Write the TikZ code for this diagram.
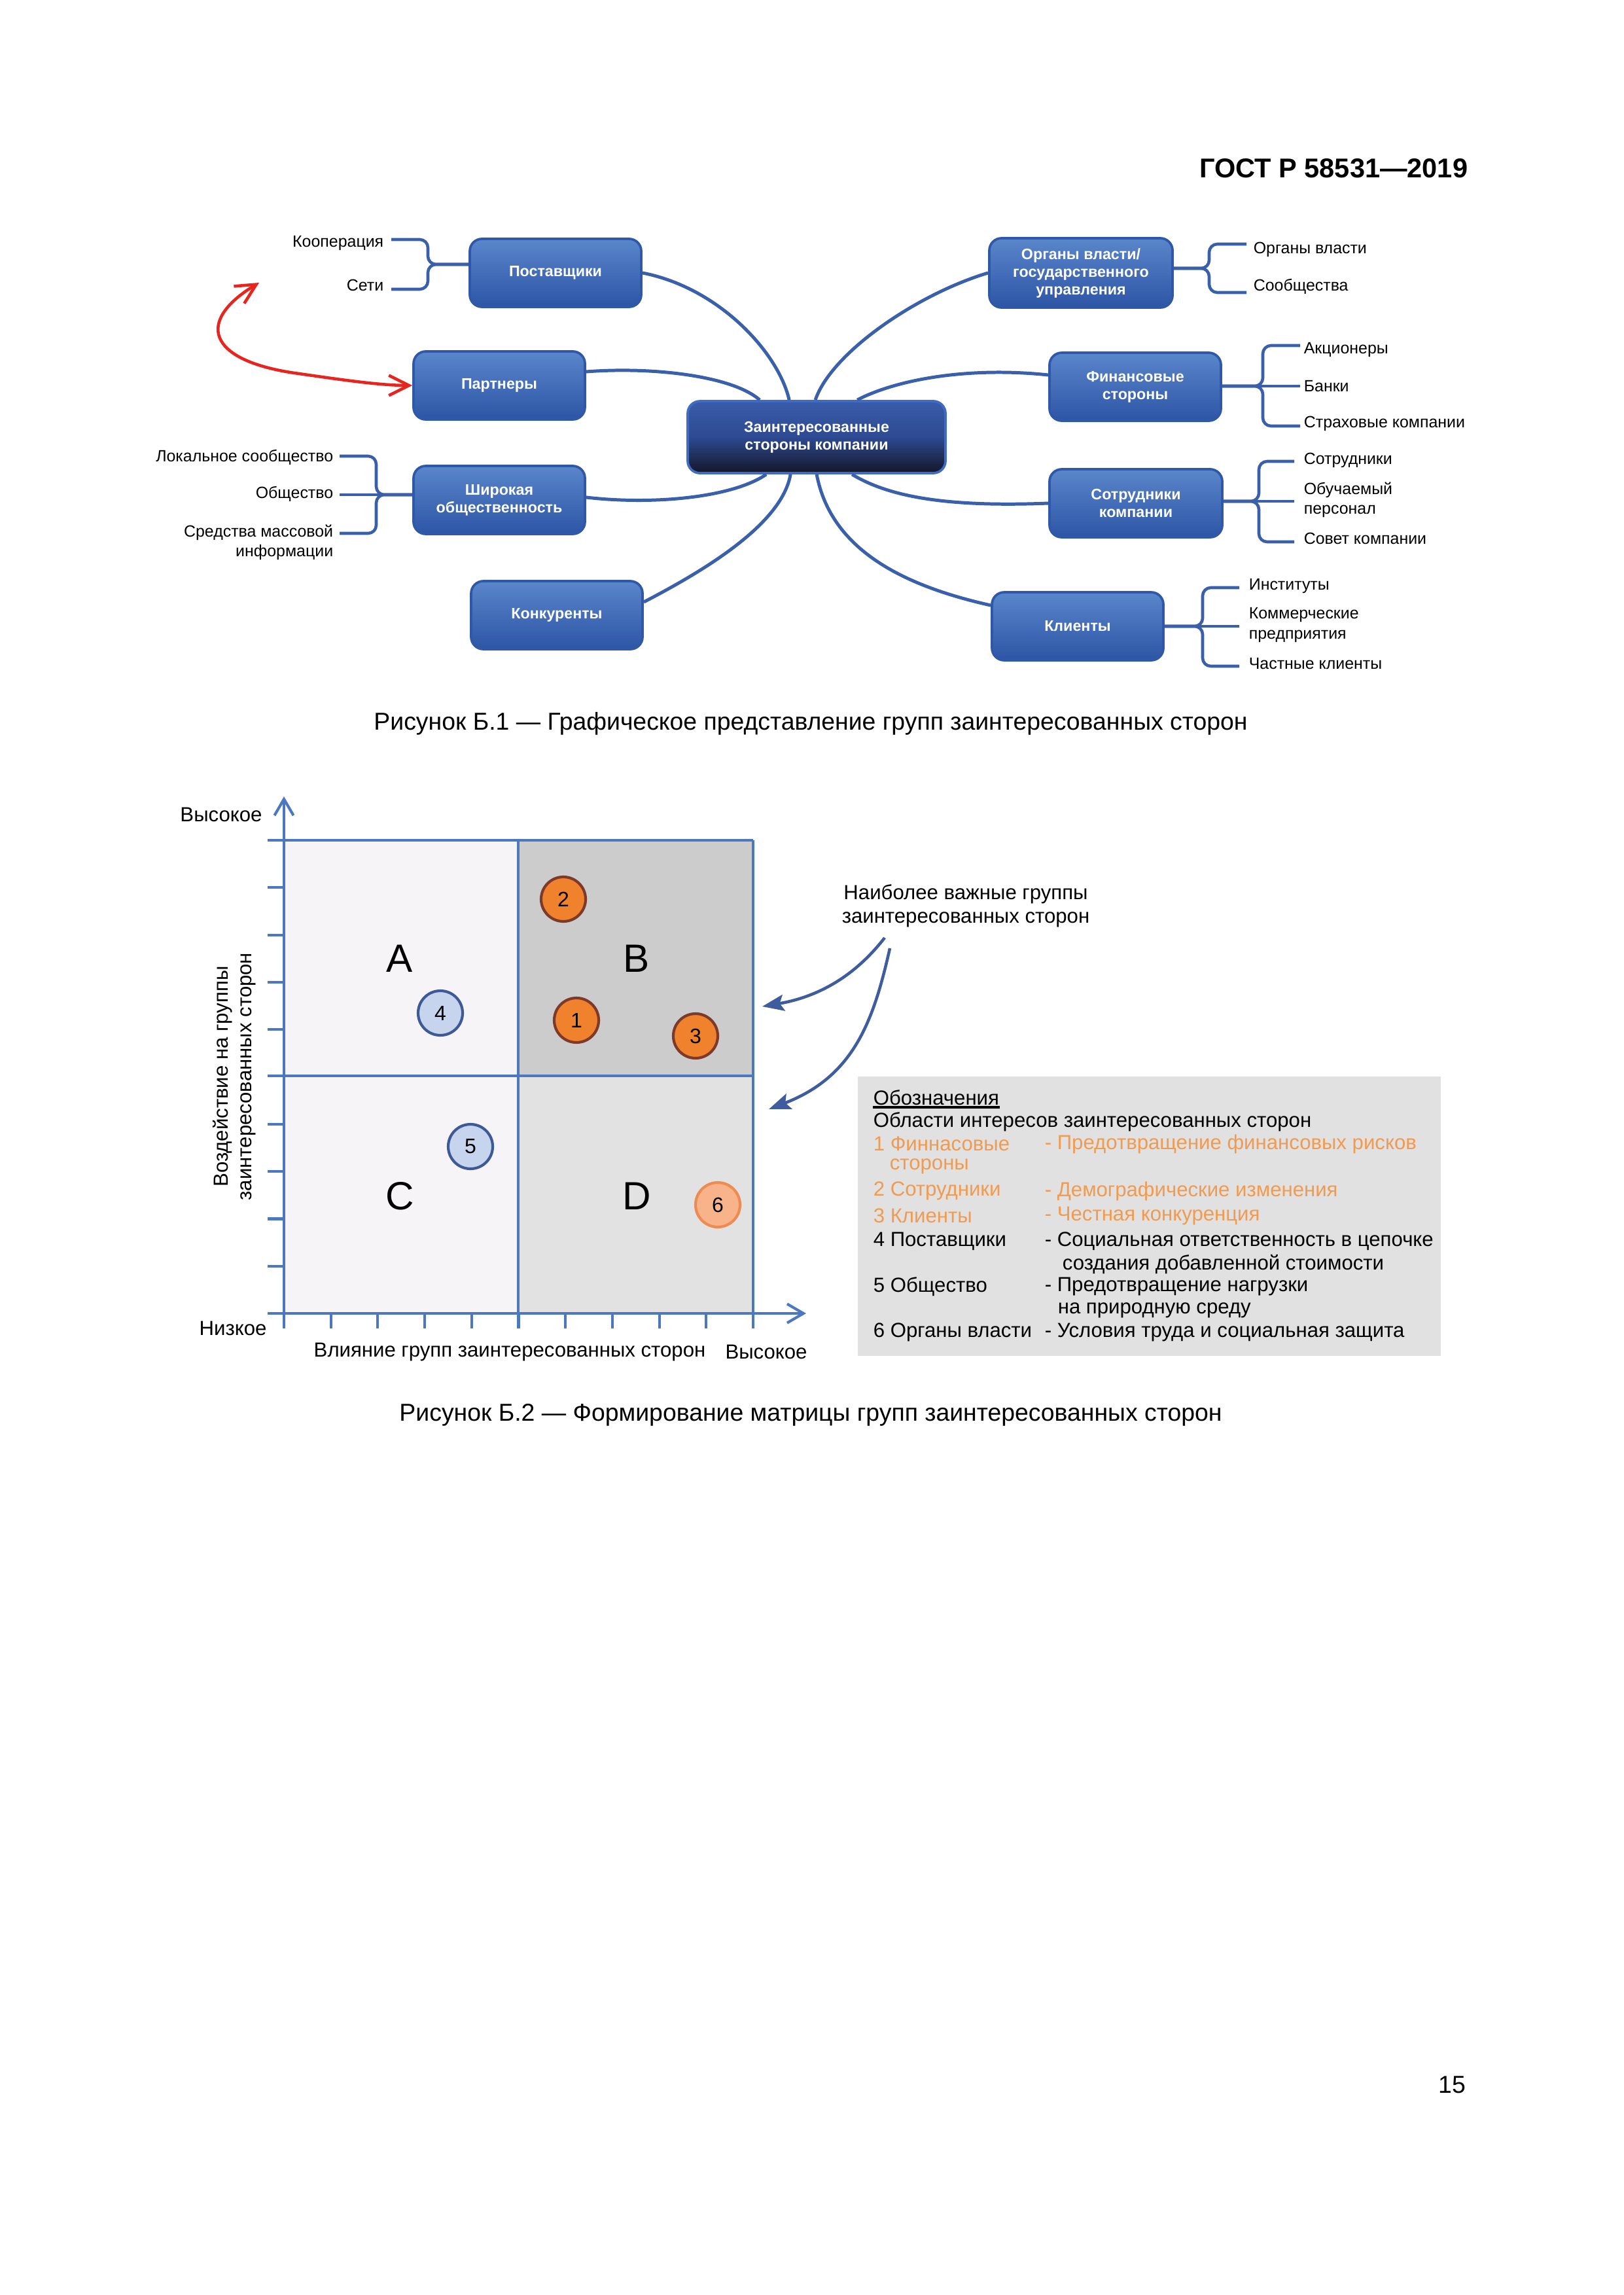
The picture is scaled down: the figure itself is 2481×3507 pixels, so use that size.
\documentclass[tikz,border=0pt]{standalone}
\usepackage{fontspec}
\setmainfont{Liberation Sans}
\usetikzlibrary{arrows.meta,calc}
\definecolor{boxtop}{HTML}{5A86CB}
\definecolor{boxbot}{HTML}{2D55A5}
\definecolor{boxedge}{HTML}{3058A8}
\definecolor{ctrtop}{HTML}{3A5CAA}
\definecolor{ctrmid}{HTML}{2E4A92}
\definecolor{ctrbot}{HTML}{141629}
\definecolor{ctredge}{HTML}{3F6BC0}
\definecolor{connblue}{HTML}{3A60AC}
\definecolor{arrred}{HTML}{E8241F}
\definecolor{gridblue}{HTML}{4C78C2}
\definecolor{quadlight}{HTML}{F6F4F6}
\definecolor{quadB}{HTML}{CCCCCC}
\definecolor{quadD}{HTML}{E2E2E2}
\definecolor{orfill}{HTML}{F0822D}
\definecolor{oredge}{HTML}{7E3A28}
\definecolor{blfill}{HTML}{C6D4EE}
\definecolor{bledge}{HTML}{3E5A96}
\definecolor{lofill}{HTML}{F9B38A}
\definecolor{loedge}{HTML}{EE8B52}
\definecolor{legor}{HTML}{F29A4E}
\definecolor{darkarr}{HTML}{3F5D9E}
\definecolor{leggray}{HTML}{E1E1E1}
\newcommand{\myfs}[2]{\fontsize{#1}{#2}\selectfont}
\def\pxu{0.084643mm}
\begin{document}
\begin{tikzpicture}[x=0.084643mm,y=-0.084643mm,
  box/.style={draw=boxedge, line width=0.9pt, rounded corners=4.5pt,
    top color=boxtop, bottom color=boxbot, text=white, align=center,
    font=\bfseries\myfs{5.6}{6.5}, inner sep=0pt,
    minimum width=262*\pxu, minimum height=104*\pxu},
  cbox/.style={draw=ctredge, line width=0.9pt, rounded corners=4.5pt,
    top color=ctrtop, bottom color=ctrbot, middle color=ctrmid, text=white, align=center,
    font=\bfseries\myfs{5.6}{6.5}, inner sep=0pt,
    minimum width=394*\pxu, minimum height=110*\pxu},
  conn/.style={draw=connblue, line width=1.2pt},
  brc/.style={draw=connblue, line width=1.1pt, rounded corners=3pt},
  lbl/.style={inner sep=0pt, font=\myfs{6}{7.3}},
  redarr/.style={draw=arrred, line width=1.1pt,
    {Straight Barb[length=7.4pt,width=7.4pt]}-{Straight Barb[length=7.4pt,width=7.4pt]}},
  grd/.style={draw=gridblue, line width=1pt},
  axarr/.style={grd, -{Straight Barb[length=6pt,width=7pt]}},
  txt/.style={inner sep=0pt, font=\myfs{7.5}{8.6}},
  qlet/.style={inner sep=0pt, font=\myfs{14.5}{16}},
  orc/.style={circle, draw=oredge, fill=orfill, line width=1pt, minimum size=68*\pxu, inner sep=0pt, font=\myfs{7.7}{8}},
  blc/.style={circle, draw=bledge, fill=blfill, line width=1pt, minimum size=68*\pxu, inner sep=0pt, font=\myfs{7.7}{8}},
  loc/.style={circle, draw=loedge, fill=lofill, line width=1pt, minimum size=68*\pxu, inner sep=0pt, font=\myfs{7.7}{8}},
  barr/.style={draw=darkarr, line width=1.1pt, -{Stealth[length=8pt,width=6pt,inset=1.5pt]}},
  legt/.style={inner sep=0pt, anchor=west, font=\myfs{7.5}{8.6}},
  lego/.style={legt, text=legor}
]
\useasboundingbox (0,0) rectangle (2481,3507);
\fill[white] (0,0) rectangle (2481,3507);

% header / page number
\node[inner sep=0pt, anchor=east, font=\bfseries\myfs{10}{12}] (hdr) at (2244,257) {ГОСТ Р 58531—2019};
\node[inner sep=0pt, font=\myfs{9}{11}] (pgn) at (2219,3186) {15};

% ================= Figure B.1 =================
\node[box] (sup) at (849,417) {Поставщики};
\node[box] (par) at (763,589) {Партнеры};
\node[box] (pub) at (763,764) {Широкая\\общественность};
\node[box] (kon) at (851,940) {Конкуренты};
\node[cbox] (ctr) at (1248,668) {Заинтересованные\\стороны компании};
\node[box, minimum width=280*\pxu, minimum height=106*\pxu] (gov) at (1652,417) {Органы власти/\\государственного\\управления};
\node[box] (fin) at (1735,591) {Финансовые\\стороны};
\node[box, minimum width=264*\pxu] (emp) at (1736,769) {Сотрудники\\компании};
\node[box] (cli) at (1647,957) {Клиенты};

% main connectors
\draw[conn] (sup.east) .. controls (1100,440) and (1190,540) .. ($(ctr.north west)+(157,0)$);
\draw[conn] ($(par.east)+(0,-21)$) .. controls (1000,560) and (1120,575) .. ($(ctr.north west)+(112,0)$);
\draw[conn] (gov.west) .. controls (1400,450) and (1270,540) .. ($(ctr.north west)+(197,0)$);
\draw[conn] ($(fin.west)+(0,-18)$) .. controls (1480,560) and (1370,580) .. ($(ctr.north west)+(261,0)$);
\draw[conn] ($(pub.east)+(0,-4)$) .. controls (1000,772) and (1120,760) .. ($(ctr.south west)+(122,0)$);
\draw[conn] ($(kon.east)+(0,-20)$) .. controls (1080,870) and (1195,800) .. ($(ctr.south west)+(159,0)$);
\draw[conn] ($(cli.west)+(0,-32)$) .. controls (1380,895) and (1270,840) .. ($(ctr.south west)+(199,0)$);
\draw[conn] (emp.west) .. controls (1450,775) and (1360,760) .. ($(ctr.south west)+(253,0)$);

% sub labels
\node[lbl, anchor=east] (koop) at (587,372) {Кооперация};
\node[lbl, anchor=east] (seti) at (587,436) {Сети};
\node[lbl, anchor=east] (lok) at (510,699) {Локальное сообщество};
\node[lbl, anchor=east] (obs) at (510,755) {Общество};
\node[lbl, anchor=east, align=right] (smi) at (510,829) {Средства массовой\\информации};
\node[lbl, anchor=west] (orgv) at (1915,381) {Органы власти};
\node[lbl, anchor=west] (soob) at (1915,438) {Сообщества};
\node[lbl, anchor=west] (akc) at (1992,535) {Акционеры};
\node[lbl, anchor=west] (bank) at (1992,590) {Банки};
\node[lbl, anchor=west] (strah) at (1992,647) {Страховые компании};
\node[lbl, anchor=west] (sotr) at (1992,703) {Сотрудники};
\node[lbl, anchor=west, align=left] (obuch) at (1992,764) {Обучаемый\\персонал};
\node[lbl, anchor=west] (sovet) at (1992,823) {Совет компании};
\node[lbl, anchor=west] (inst) at (1908,896) {Институты};
\node[lbl, anchor=west, align=left] (komm) at (1908,955) {Коммерческие\\предприятия};
\node[lbl, anchor=west] (chast) at (1908,1014) {Частные клиенты};

% braces
\draw[brc] (598,366) -- (654,366) -- (654,404) -- ($(sup.west)+(0,-13)$);
\draw[brc] (598,442) -- (654,442) -- (654,404) -- ($(sup.west)+(0,-13)$);
\draw[brc] (519,697) -- (575,697) -- (575,756) -- ($(pub.west)+(0,-8)$);
\draw[brc] (519,815) -- (575,815) -- (575,756) -- ($(pub.west)+(0,-8)$);
\draw[brc] (519,756) -- ($(pub.west)+(0,-8)$);
\draw[brc] ($(gov.east)+(0,-7)$) -- (1848,410) -- (1848,373) -- (1905,373);
\draw[brc] ($(gov.east)+(0,-7)$) -- (1848,410) -- (1848,447) -- (1905,447);
\draw[brc] ($(fin.east)+(0,-1)$) -- (1930,590) -- (1930,528) -- (1987,528);
\draw[brc] ($(fin.east)+(0,-1)$) -- (1930,590) -- (1930,651) -- (1987,651);
\draw[brc] ($(fin.east)+(0,-1)$) -- (1987,590);
\draw[brc] ($(emp.east)+(0,-3)$) -- (1924,766) -- (1924,705) -- (1978,705);
\draw[brc] ($(emp.east)+(0,-3)$) -- (1924,766) -- (1924,828) -- (1978,828);
\draw[brc] ($(emp.east)+(0,-3)$) -- (1978,766);
\draw[brc] (cli.east) -- (1838,957) -- (1838,898) -- (1894,898);
\draw[brc] (cli.east) -- (1838,957) -- (1838,1018) -- (1894,1018);
\draw[brc] (cli.east) -- (1894,957);

% red arrow
\coordinate (redtip) at (396,432);
\draw[redarr] (redtip) .. controls (300,490) and (315,550) .. (450,570) .. controls (520,580) and (580,589) .. (par.west);

\node[inner sep=0pt, font=\myfs{9}{11}] (cap1) at (1239,1106) {Рисунок Б.1 — Графическое представление групп заинтересованных сторон};

% ================= Figure B.2 =================
\fill[quadlight] (434,1284) rectangle (792,1644);
\fill[quadB] (792,1284) rectangle (1151,1644);
\fill[quadlight] (434,1644) rectangle (792,2007);
\fill[quadD] (792,1644) rectangle (1151,2007);

\draw[grd] (409,1284) -- (1151,1284);
\draw[grd] (409,1644) -- (1151,1644);
\draw[grd] (792,1284) -- (792,2030);
\draw[grd] (1151,1284) -- (1151,2030);
\foreach \i in {1,...,9} \draw[grd] ({434+71.7*\i},2007) -- ++(0,23);
\foreach \i in {1,2,3,4,6,7,8,9} \draw[grd] (409,{1284+72.3*\i}) -- ++(25,0);
\draw[axarr] (409,2007) -- (1232,2007);
\draw[axarr] (434,2030) -- (434,1217);

\node[qlet] (qa) at (611,1465) {A};
\node[qlet] (qb) at (973,1465) {B};
\node[qlet] (qc) at (611,1828) {C};
\node[qlet] (qd) at (973,1828) {D};

\node[orc] (c2) at (861,1374) {2};
\node[orc] (c1) at (881,1559) {1};
\node[orc] (c3) at (1063,1583) {3};
\node[blc] (c4) at (673,1548) {4};
\node[blc] (c5) at (719,1752) {5};
\node[loc] (c6) at (1097,1841) {6};

\node[txt] (hi1) at (338,1245) {Высокое};
\node[txt] (lo1) at (356,2030) {Низкое};
\node[txt] (xlab) at (779,2066) {Влияние групп заинтересованных сторон};
\node[txt] (hi2) at (1171,2066) {Высокое};
\node[txt, rotate=90, align=center] (ylab) at (358,1645) {Воздействие на группы\\заинтересованных сторон};

\node[txt, align=center] (imp) at (1476,1384) {Наиболее важные группы\\заинтересованных сторон};
\coordinate (a1s) at (1352,1433);
\coordinate (a1e) at (1165,1538);
\coordinate (a2s) at (1360,1449);
\coordinate (a2e) at (1175,1695);
\draw[barr] (a1s) .. controls (1300,1500) and (1240,1525) .. (a1e);
\draw[barr] (a2s) .. controls (1335,1560) and (1305,1645) .. (a2e);

% legend
\fill[leggray] (1311,1645) rectangle (2202,2072);
\node[legt] (l0) at (1334,1677) {Обозначения};
\draw[line width=0.8pt] ($(l0.west)+(0,15)$) -- ($(l0.east)+(0,15)$);
\node[legt] (l1) at (1334,1714) {Области интересов заинтересованных сторон};
\node[lego] (l2a) at (1334,1748) {1 Финнасовые};
\node[lego] (l2b) at (1596,1748) {- Предотвращение финансовых рисков};
\node[lego] (l3a) at (1359,1782) {стороны};
\node[lego] (l4a) at (1334,1820) {2 Сотрудники};
\node[lego] (l4b) at (1596,1820) {- Демографические изменения};
\node[lego] (l5a) at (1334,1858) {3 Клиенты};
\node[lego] (l5b) at (1596,1858) {- Честная конкуренция};
\node[legt] (l6a) at (1334,1897) {4 Поставщики};
\node[legt] (l6b) at (1596,1897) {- Социальная ответственность в цепочке};
\node[legt] (l7b) at (1623,1932) {создания добавленной стоимости};
\node[legt] (l8a) at (1334,1966) {5 Общество};
\node[legt] (l8b) at (1596,1966) {- Предотвращение нагрузки};
\node[legt] (l9b) at (1616,2002) {на природную среду};
\node[legt] (l10a) at (1334,2036) {6 Органы власти};
\node[legt] (l10b) at (1596,2036) {- Условия труда и социальная защита};

\node[inner sep=0pt, font=\myfs{9}{11}] (cap2) at (1239,2162) {Рисунок Б.2 — Формирование матрицы групп заинтересованных сторон};
\end{tikzpicture}
\end{document}
